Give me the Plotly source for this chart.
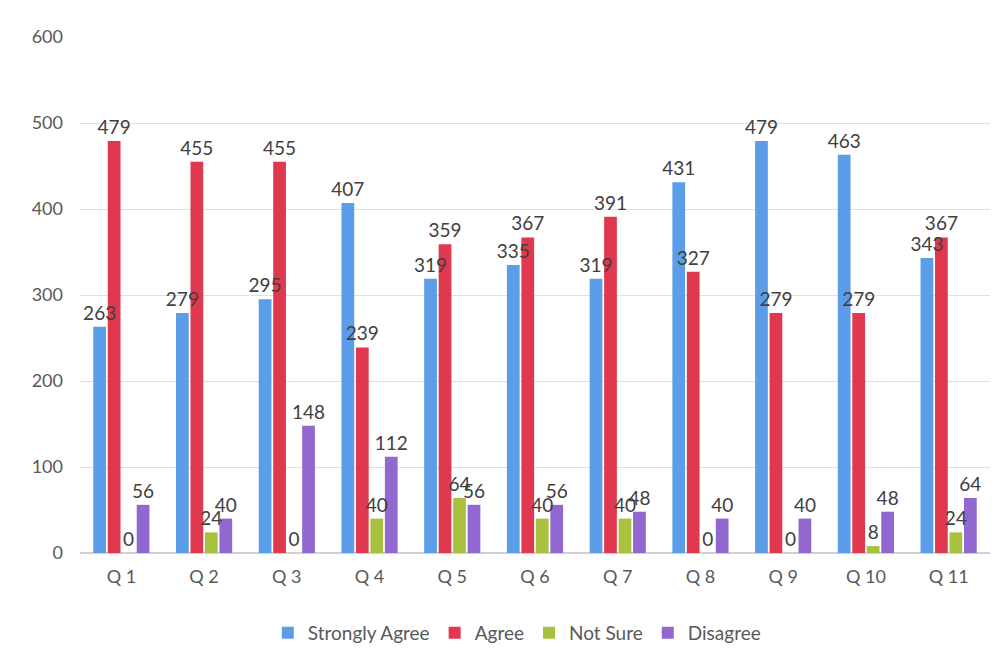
import plotly.graph_objects as go

categories = ["Q 1", "Q 2", "Q 3", "Q 4", "Q 5", "Q 6", "Q 7", "Q 8", "Q 9", "Q 10", "Q 11"]
strongly_agree = [263, 279, 295, 407, 319, 335, 319, 431, 479, 463, 343]
agree = [479, 455, 455, 239, 359, 367, 391, 327, 279, 279, 367]
not_sure = [0, 24, 0, 40, 64, 40, 40, 0, 0, 8, 24]
disagree = [56, 40, 148, 112, 56, 56, 48, 40, 40, 48, 64]

series = [
    ("Strongly Agree", strongly_agree, "#5b9de8"),
    ("Agree", agree, "#e0384f"),
    ("Not Sure", not_sure, "#a8c23f"),
    ("Disagree", disagree, "#9068cf"),
]

font_family = "Lato, 'Open Sans', sans-serif"

fig = go.Figure()
# Bars first
for i, (name, vals, color) in enumerate(series):
    fig.add_trace(go.Bar(
        x=categories, y=vals, name=name, offsetgroup=str(i),
        marker=dict(color=color, line=dict(width=0)),
    ))
# Data labels drawn on top of all bars (transparent bars sharing the same slots)
for i, (name, vals, color) in enumerate(series):
    fig.add_trace(go.Bar(
        x=categories, y=vals, name=name, offsetgroup=str(i),
        marker=dict(color="rgba(0,0,0,0)", line=dict(width=0)),
        text=[str(v) for v in vals],
        textposition="outside",
        constraintext="none",
        cliponaxis=False,
        textfont=dict(size=19, color="#404040", family=font_family),
        showlegend=False, hoverinfo="skip",
    ))

fig.update_layout(
    barmode="group",
    bargap=0.30,
    bargroupgap=0.12,
    width=997, height=659,
    margin=dict(l=72, r=15, t=29, b=114),
    paper_bgcolor="white",
    plot_bgcolor="white",
    font=dict(family=font_family, color="#595959", size=18),
    showlegend=True,
    legend=dict(
        orientation="h", x=0.48, xanchor="center", y=-0.155, yanchor="middle",
        font=dict(size=19, color="#595959"),
        itemwidth=30, traceorder="normal",
    ),
    yaxis=dict(
        range=[0, 600], dtick=100, showgrid=True, gridcolor="#e0e0e0",
        gridwidth=1, zeroline=True, zerolinecolor="#d0d0d0",
        showline=False, ticks="", tickfont=dict(size=18, color="#595959"),
        ticklabelstandoff=16,
    ),
    xaxis=dict(
        showline=False, ticks="", tickfont=dict(size=18, color="#595959"),
        ticklabelstandoff=11,
    ),
)

fig.write_html("out.html")
